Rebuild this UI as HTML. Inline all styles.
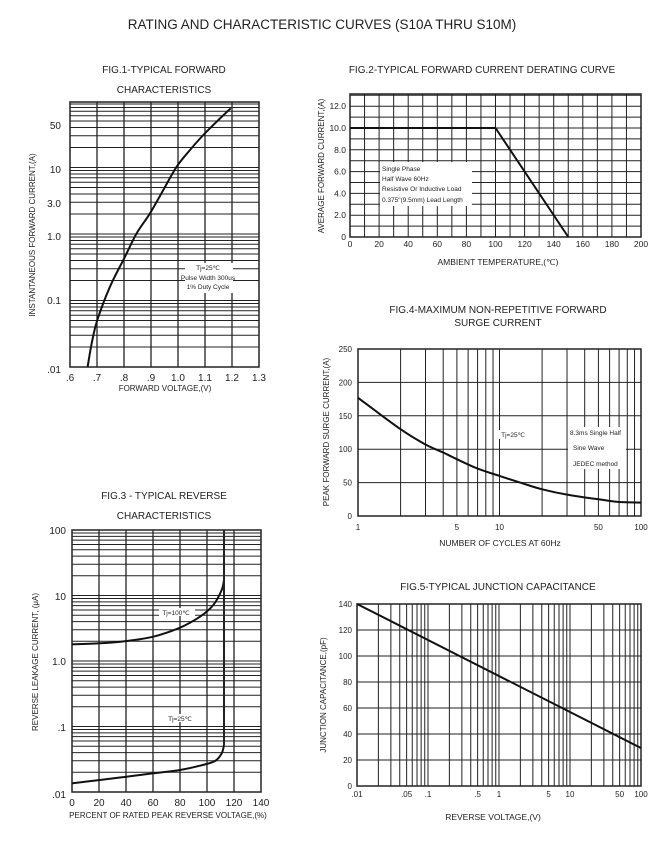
<!DOCTYPE html>
<html><head><meta charset="utf-8"><style>
html,body{margin:0;padding:0;background:#fff;}
svg{display:block;font-family:"Liberation Sans",Arial,sans-serif;}
</style></head><body>
<svg id="s" width="669" height="861" xmlns="http://www.w3.org/2000/svg">
<text x="322" y="29" font-size="13.5" text-anchor="middle" fill="#222">RATING AND CHARACTERISTIC CURVES (S10A THRU S10M)</text>
<g font-size="10" text-anchor="middle" fill="#222">
<text x="164" y="73">FIG.1-TYPICAL FORWARD</text>
<text x="164" y="93">CHARACTERISTICS</text>
<text x="482" y="73">FIG.2-TYPICAL FORWARD CURRENT DERATING CURVE</text>
<text x="498" y="313">FIG.4-MAXIMUM NON-REPETITIVE FORWARD</text>
<text x="498" y="326">SURGE CURRENT</text>
<text x="164" y="499">FIG.3 - TYPICAL REVERSE</text>
<text x="164" y="519">CHARACTERISTICS</text>
<text x="498" y="590">FIG.5-TYPICAL JUNCTION CAPACITANCE</text>
</g>
<g id="g" stroke="#222" fill="none"></g>
<g id="t" fill="#222"></g>
</svg>
<script>
var g=document.getElementById('g'),t=document.getElementById('t');
function L(x1,y1,x2,y2,w){g.innerHTML+='<line x1="'+x1+'" y1="'+y1+'" x2="'+x2+'" y2="'+y2+'" stroke-width="'+(w||1)+'"/>';}
function R(x,y,w,h){g.innerHTML+='<rect x="'+x+'" y="'+y+'" width="'+w+'" height="'+h+'" stroke-width="1.5"/>';}
function S(p,w){var d='M'+p[0][0]+','+p[0][1];for(var i=0;i<p.length-1;i++){var p0=p[i-1]||p[i],p1=p[i],p2=p[i+1],p3=p[i+2]||p2;
d+=' C'+(p1[0]+(p2[0]-p0[0])/6).toFixed(1)+','+(p1[1]+(p2[1]-p0[1])/6).toFixed(1)+' '+(p2[0]-(p3[0]-p1[0])/6).toFixed(1)+','+(p2[1]-(p3[1]-p1[1])/6).toFixed(1)+' '+p2[0].toFixed(1)+','+p2[1].toFixed(1);}
g.innerHTML+='<path d="'+d+'" stroke="#111" stroke-width="'+(w||2)+'" stroke-linejoin="round"/>';}
function P(pts,w){g.innerHTML+='<polyline points="'+pts+'" stroke="#111" stroke-width="'+(w||2)+'" stroke-linejoin="round"/>';}
function T(x,y,s,sz,a,rot){var tr=rot?' transform="rotate(-90 '+x+' '+y+')"':'';t.innerHTML+='<text x="'+x+'" y="'+y+'" font-size="'+sz+'" text-anchor="'+(a||'middle')+'"'+tr+'>'+s+'</text>';}
function BG(x,y,w,h){t.innerHTML+='<rect x="'+x+'" y="'+y+'" width="'+w+'" height="'+h+'" fill="#fff"/>';}
var m,d,k;
function Z(a,ox,oy){return a.map(function(p){return [ox+p[0]/3,oy+p[1]/3];});}
// FIG1
for(d=0;d<4;d++)for(m=1;m<10;m++){var y=367-66.5*(d+Math.log10(m));L(70,y,259,y);}
for(k=1;k<7;k++)L(70+27*k,102,70+27*k,367,1.3);
R(70,102,189,265);
S(Z([[203,830],[215,760],[232,690],[270,590],[315,500],[350,430],[390,370],[430,300],[470,230],[510,180],[550,135],[590,95],[632,55]],20,90));
var fy=[['50',125],['10',169],['3.0',203],['1.0',236],['0.1',300],['.01',369]];
fy.forEach(function(a){T(61,a[1]+4,a[0],10,'end');});
['.6','.7','.8','.9','1.0','1.1','1.2','1.3'].forEach(function(s,i){T(70+27*i,381,s,10);});
T(165,391,'FORWARD VOLTAGE,(V)',8);
T(35,235,'INSTANTANEOUS FORWARD CURRENT,(A)',8,'middle',1);
BG(185,263,48,30);
T(208,270,'Tj=25℃',6.5);T(208,280,'Pulse Width 300us',6.5);T(208,289,'1% Duty Cycle',6.5);
// FIG2
for(k=0;k<=13;k++)L(350,237-10.9*k,641,237-10.9*k);
for(k=1;k<20;k++)L(350+14.55*k,94,350+14.55*k,237);
R(350,94,291,143);
P("350,128 495.5,128 568.3,237");
['0','2.0','4.0','6.0','8.0','10.0','12.0'].forEach(function(s,i){T(346,240-21.8*i,s,8.5,'end');});
for(k=0;k<=10;k++)T(350+29.1*k,247,''+(20*k),8.5);
T(498,265,'AMBIENT TEMPERATURE,(℃)',8.5);
T(324,166,'AVERAGE FORWARD CURRENT,(A)',8,'middle',1);
BG(380,162,92,44);
T(382,171,'Single Phase',6.5,'start');T(382,181,'Half Wave 60Hz',6.5,'start');T(382,191,'Resistive Or Inductive Load',6.5,'start');T(382,202,'0.375"(9.5mm) Lead Length',6.5,'start');
// FIG3
for(d=0;d<4;d++)for(m=1;m<10;m++){var y=792-65.5*(d+Math.log10(m));L(72,y,261,y);}
for(k=1;k<7;k++)L(72+27*k,530,72+27*k,792,1.3);
R(72,530,189,262);
S(Z([[155,388],[240,385],[320,378],[400,365],[480,338],[540,305],[580,270],[605,225],[612,195]],20,515));
L(224,530,224,581,2);
S(Z([[155,805],[240,795],[320,785],[400,775],[480,765],[540,752],[585,738],[605,715],[612,690]],20,515));
L(224,545,224,745,2);
[['100',530],['10',596],['1.0',661],['.1',727],['.01',794]].forEach(function(a){T(66,a[1]+4,a[0],10,'end');});
for(k=0;k<=7;k++)T(72+27*k,806,''+(20*k),10);
T(168,818,'PERCENT OF RATED PEAK REVERSE VOLTAGE,(%)',8);
T(38,662,'REVERSE LEAKAGE CURRENT, (μA)',8,'middle',1);
BG(159,608,36,8);T(176,615,'Tj=100℃',6.5);
BG(166,714,28,8);T(180,721,'Tj=25℃',6.5);
// FIG4
for(k=1;k<5;k++)L(358,516-33.4*k,641,516-33.4*k);
[2,3,4,5,6,7,8,9,10,20,30,40,50,60,70,80,90].forEach(function(n){var x=358+141.5*Math.log10(n);L(x,349,x,516);});
R(358,349,283,167);
var c4=[[1,177],[2,130],[3,107],[4,95],[5,85],[7,71],[10,60],[15,48],[20,40],[30,32],[50,25],[70,21],[100,20]];
S(c4.map(function(p){return [358+141.5*Math.log10(p[0]),516-0.668*p[1]];}));
for(k=0;k<=5;k++)T(352,519-33.4*k,''+(50*k),8,'end');
[[1,'1'],[5,'5'],[10,'10'],[50,'50'],[100,'100']].forEach(function(a){T(358+141.5*Math.log10(a[0]),530,a[1],8);});
T(500,546,'NUMBER OF CYCLES AT 60Hz',8.5);
T(329,432,'PEAK FORWARD SURGE CURRENT,(A)',8,'middle',1);
BG(498,430,30,9);T(513,437,'Tj=25℃',6.5);
BG(568,427,58,42);T(570,435,'8.3ms Single Half',6.5,'start');T(573,450,'Sine Wave',6.5,'start');T(573,466,'JEDEC method',6.5,'start');
// FIG5
for(k=1;k<7;k++)L(357,786-26*k,641,786-26*k);
for(d=0;d<4;d++)for(m=(d==0?2:1);m<10;m++){var x=357+71*(d+Math.log10(m));L(x,604,x,786);}
R(357,604,284,182);
P("357,604 641,748");
for(k=0;k<=7;k++)T(352,789-26*k,''+(20*k),8,'end');
[[.01,'.01'],[.05,'.05'],[.1,'.1'],[.5,'.5'],[1,'1'],[5,'5'],[10,'10'],[50,'50'],[100,'100']].forEach(function(a){T(357+71*(Math.log10(a[0])+2),797,a[1],8);});
T(493,820,'REVERSE VOLTAGE,(V)',8.5);
T(326,695,'JUNCTION CAPACITANCE,(pF)',8,'middle',1);
</script>
</body></html>
